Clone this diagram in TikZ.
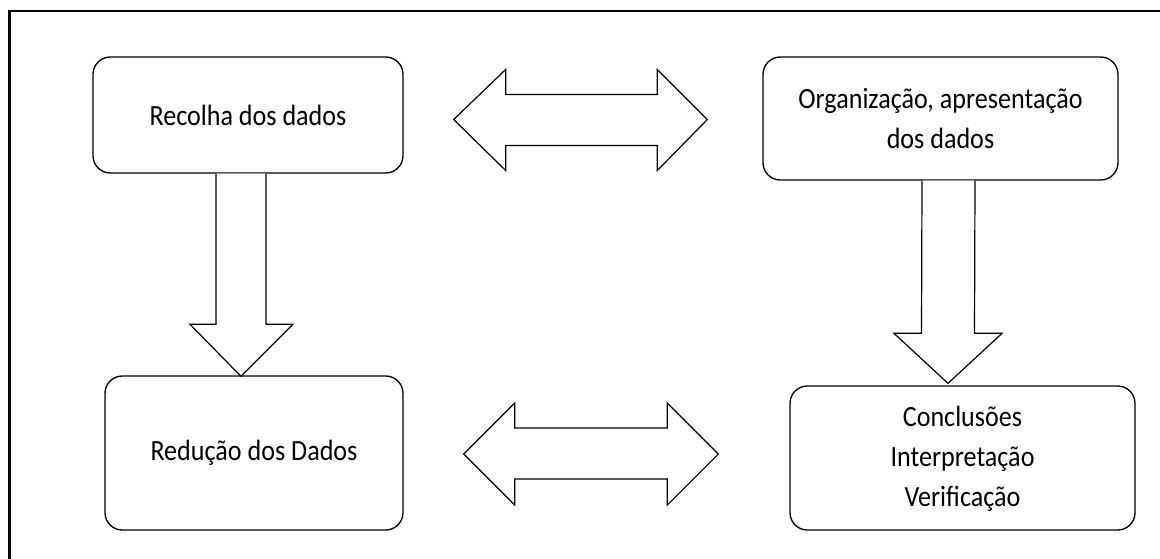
\documentclass[tikz,border=0pt]{standalone}
\usepackage{fontspec}
\setmainfont{Carlito}[FakeStretch=0.89]
\usetikzlibrary{calc}
\tikzset{
  box/.style={draw, line width=1pt, rounded corners=13pt, align=center,
    font=\fontsize{22}{30}\selectfont, inner sep=0pt},
  blk/.style={draw, line width=0.9pt, line join=miter, fill=white},
  frame/.style={draw, line width=1.6pt}
}
\begin{document}
\begin{tikzpicture}[x=0.75pt,y=-0.75pt]
\useasboundingbox (0,0) rectangle (1160,558);
\draw[frame] (9.5,580) -- (9.5,11) -- (1180,11);

\node[box, minimum width=310*0.75pt, minimum height=116*0.75pt] (r) at (248,115) {Recolha dos dados};
\node[box, minimum width=355*0.75pt, minimum height=123*0.75pt] (o) at (940.5,118.5) {Organização, apresentação\\dos dados};
\node[box, minimum width=298*0.75pt, minimum height=154*0.75pt] (d) at (254,453) {Redução dos Dados};
\node[box, minimum width=345*0.75pt, minimum height=144*0.75pt] (c) at (962.5,458) {\raisebox{-4pt}{\begin{tabular}{@{}c@{}}Conclusões\\[0pt]Interpretação\\Verificação\end{tabular}}};

% down arrow 1
\coordinate (a1) at ($(r.south)+(-7,0)$);
\coordinate (b1) at ($(d.north)+(-13,1)$);
\draw[blk] ($(a1)+(-25,0)$) -- ($(b1)+(-25,-52)$) -- ($(b1)+(-51,-52)$) -- (b1)
  -- ($(b1)+(52,-52)$) -- ($(b1)+(25,-52)$) -- ($(a1)+(25,0)$);
% down arrow 2
\coordinate (a2) at ($(o.south)+(8,0)$);
\coordinate (b2) at ($(c.north)+(-14.5,-2)$);
\draw[blk] ($(a2)+(-26.5,0)$) -- ($(b2)+(-26.5,-50)$) -- ($(b2)+(-54,-50)$) -- (b2)
  -- ($(b2)+(54,-50)$) -- ($(b2)+(26.5,-50)$) -- ($(a2)+(26.5,0)$);

% double arrow top
\coordinate (l1) at ($(r.east)+(50,4.5)$);
\coordinate (m1) at ($(o.west)+(-55,1)$);
\draw[blk] (l1) -- ($(l1)+(52,-50)$) -- ($(l1)+(52,-25)$) -- ($(m1)+(-50,-25)$) -- ($(m1)+(-50,-50)$)
  -- (m1) -- ($(m1)+(-50,51)$) -- ($(m1)+(-50,26)$) -- ($(l1)+(52,26)$) -- ($(l1)+(52,51)$) -- cycle;
% double arrow bottom
\coordinate (l2) at ($(d.east)+(60,1)$);
\coordinate (m2) at ($(c.west)+(-71,-4)$);
\draw[blk] (l2) -- ($(l2)+(51,-51)$) -- ($(l2)+(51,-26)$) -- ($(m2)+(-51,-26)$) -- ($(m2)+(-51,-51)$)
  -- (m2) -- ($(m2)+(-51,51)$) -- ($(m2)+(-51,25)$) -- ($(l2)+(51,25)$) -- ($(l2)+(51,51)$) -- cycle;
\end{tikzpicture}
\end{document}
